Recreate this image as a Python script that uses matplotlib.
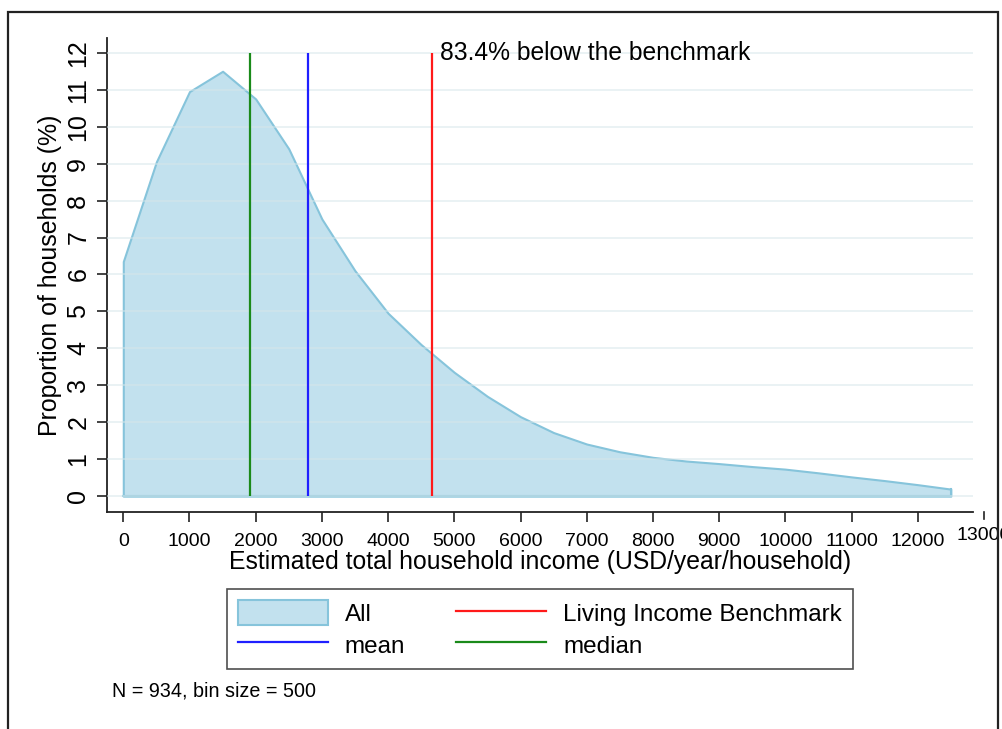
import numpy as np
import matplotlib.pyplot as plt
from matplotlib.patches import Rectangle, Patch
from matplotlib.lines import Line2D

plt.rcParams['font.family'] = ['Liberation Sans', 'DejaVu Sans']

# --- data ---
income = [0, 500, 1000, 1500, 2000, 2500, 3000, 3500, 4000, 4500, 5000, 5500, 6000,
          6500, 7000, 7500, 8000, 8500, 9000, 9500, 10000, 10500, 11000, 11500, 12000, 12500]
share = [6.35, 9.05, 10.95, 11.5, 10.75, 9.4, 7.5, 6.1, 4.95, 4.1, 3.35, 2.7, 2.15,
         1.72, 1.41, 1.2, 1.05, 0.95, 0.88, 0.8, 0.73, 0.63, 0.52, 0.42, 0.31, 0.19]
median_val = 1914
mean_val = 2785
benchmark = 4663
note_text = "83.4% below the benchmark"
x_ticks = list(range(0, 13000, 1000))
y_ticks = list(range(0, 13))

fill_c = '#c2e1ee'
edge_c = '#86c4db'

fig = plt.figure(figsize=(10.02, 7.29), dpi=100)
W, H = 1002, 729
ax = fig.add_axes([107 / W, 1 - 512 / H, (973 - 107) / W, (512 - 38) / H])

ax.fill_between(income, 0, share, facecolor=fill_c, edgecolor=edge_c, linewidth=1.5, zorder=2)
ax.plot([income[-1], income[-1]], [0, share[-1]], color=edge_c, lw=1.5, zorder=2)
ax.plot([income[0], income[-1]], [0, 0], color=edge_c, lw=1.5, zorder=2)

for yv in y_ticks:
    ax.axhline(yv, color='#d6e6ea', lw=1.2, alpha=0.6, zorder=3)

ax.vlines(median_val, 0, 12, color='#1a8a1a', lw=1.6, zorder=4)
ax.vlines(mean_val, 0, 12, color='#1f1fff', lw=1.6, zorder=4)
ax.vlines(benchmark, 0, 12, color='#ff1a1a', lw=1.6, zorder=4)
ax.text(benchmark + 120, 12, note_text, fontsize=17.7, va='center', ha='left', zorder=5)

ax.set_xlim(-246, 12835)
ax.set_ylim(-0.43, 12.4)
ax.set_xticks(x_ticks)
ax.set_yticks(y_ticks)
ax.set_yticklabels([str(v) for v in y_ticks], rotation=90, va='center', fontsize=18)
ax.set_xticklabels([str(v) for v in x_ticks], fontsize=14)
ax.tick_params(axis='both', direction='out', length=7, width=1.2, color='#222222', pad=5)
ax.tick_params(axis='x', pad=8)
for s in ['top', 'right']:
    ax.spines[s].set_visible(False)
for s in ['left', 'bottom']:
    ax.spines[s].set_linewidth(1.3)
    ax.spines[s].set_color('#222222')

# extra 13000 tick past the end of the axis line
ax.plot([13000, 13000], [-0.43, -0.43 - 7 / 36.9], color='#222222', lw=1.2, clip_on=False)
ax.text(13000, -0.43 - 15 / 36.9, "13000", fontsize=14, ha='center', va='top', clip_on=False)

ax.set_xlabel("Estimated total household income (USD/year/household)", fontsize=17.8, labelpad=0)
ax.set_ylabel("Proportion of households (%)", fontsize=17.9, labelpad=3)

handles = [Patch(facecolor=fill_c, edgecolor=edge_c, linewidth=1.5),
           Line2D([], [], color='#1f1fff', lw=1.6),
           Line2D([], [], color='#ff1a1a', lw=1.6),
           Line2D([], [], color='#1a8a1a', lw=1.6)]
labels = ["All", "mean", "Living Income Benchmark", "median"]
leg = fig.legend(handles, labels, ncol=2, loc='center', bbox_to_anchor=(540 / W, 1 - 629 / H),
                 fontsize=17.5, frameon=True, fancybox=False, edgecolor='#222222',
                 handlelength=3.7, handleheight=1.2, handletextpad=0.7, columnspacing=2.1,
                 borderpad=0.45, labelspacing=0.25)
leg.get_frame().set_linewidth(1.2)

fig.text(112 / W, 1 - 691 / H, "N = 934, bin size = 500", fontsize=14.2, va='center', ha='left')

fig.patches.append(Rectangle((8 / W, -0.05), (998 - 8) / W, 1.05 - 12 / H, transform=fig.transFigure,
                             fill=False, edgecolor='#222222', linewidth=1.6))

fig.savefig("out.png", dpi=100)
